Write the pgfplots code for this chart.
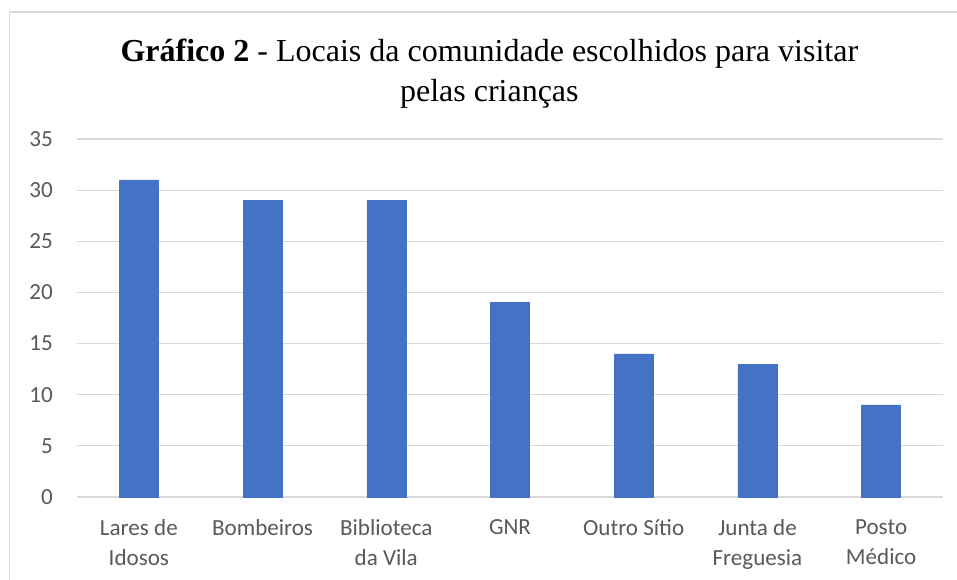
\documentclass[border=0pt]{standalone}
\usepackage{fontspec}
\setmainfont{Carlito}
\newfontfamily\titlefont{Liberation Serif}
\usepackage{pgfplots}
\pgfplotsset{compat=1.18}
\definecolor{barblue}{HTML}{4472C4}
\definecolor{gridgray}{HTML}{D9D9D9}
\definecolor{labelgray}{HTML}{595959}
\begin{document}
\begin{tikzpicture}
\useasboundingbox (0,0) rectangle (717.75pt,435pt);
\draw[gridgray, line width=1.1pt] (7.2pt,-2pt) -- (7.2pt,426pt) -- (720pt,426pt);
\node[anchor=base] at (367pt,388.5pt) {\titlefont\fontsize{24}{28}\selectfont \textbf{Gráfico 2} - Locais da comunidade escolhidos para visitar};
\node[anchor=base] at (367pt,358.5pt) {\titlefont\fontsize{24}{28}\selectfont pelas crianças};
\begin{axis}[
  at={(57.75pt,62.25pt)}, anchor=south west,
  scale only axis, width=649.5pt, height=268.5pt,
  xmin=-0.5, xmax=6.5, ymin=0, ymax=35,
  ytick={0,5,...,35},
  xtick={0,...,6},
  xticklabels={{Lares de\\Idosos},{Bombeiros},{Biblioteca\\da Vila},{GNR},{Outro Sítio},{Junta de\\Freguesia},{Posto\\Médico}},
  major tick length=0pt,
  axis line style={draw=none},
  ymajorgrids, grid style={gridgray, line width=0.9pt},
  tick label style={font=\fontsize{17.3}{22.5}\selectfont, text=labelgray},
  /pgf/number format/assume math mode=true,
  yticklabel style={anchor=east, inner sep=0pt, xshift=-18pt},
  xticklabel style={anchor=north, inner sep=0pt, align=center, yshift=-17pt},
  clip=false,
]
\addplot[ybar, bar width=29.25pt, fill=barblue, draw=barblue] coordinates {(0,31) (1,29) (2,29) (3,19) (4,14) (5,13) (6,9)};
\end{axis}
\end{tikzpicture}
\end{document}
